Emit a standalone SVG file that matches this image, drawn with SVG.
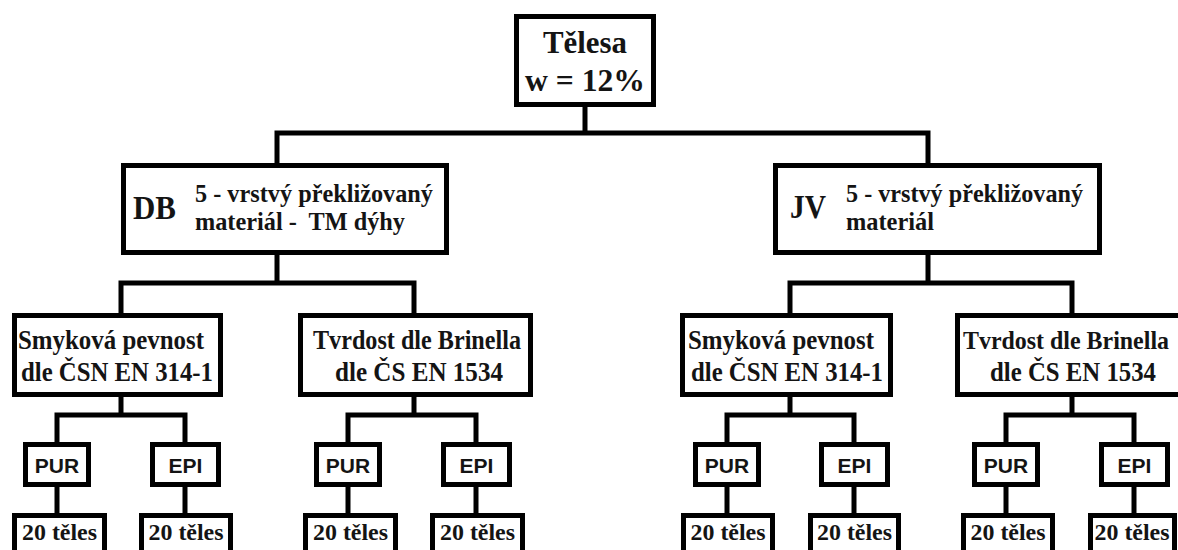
<svg xmlns="http://www.w3.org/2000/svg" width="1178" height="550" viewBox="0 0 1178 550">
<style>
  .box { fill: #ffffff; stroke: #000000; stroke-width: 5; }
  .conn { fill: none; stroke: #000000; stroke-width: 5; stroke-linejoin: miter; stroke-linecap: butt; }
  .serif { font-family: "Liberation Serif", "Times New Roman", serif; font-weight: bold; fill: #141414; }
  .sans { font-family: "Liberation Sans", Arial, sans-serif; font-weight: bold; fill: #141414; }
  .mid { text-anchor: middle; }
</style>
<rect width="1178" height="550" fill="#ffffff"/>
<g id="connectors">
  <path class="conn" d="M585,107 V133 M277,163 V133 H928 V163"/>
  <path class="conn" d="M277,255 V283 M121,313 V283 H414 V313"/>
  <path class="conn" d="M928,255 V283 M790,313 V283 H1072 V313"/>
  <path class="conn" d="M121,397 V415 M57,442 V415 H185 V442"/>
  <path class="conn" d="M414,397 V415 M348,442 V415 H476 V442"/>
  <path class="conn" d="M790,397 V415 M727,442 V415 H854 V442"/>
  <path class="conn" d="M1072,397 V415 M1006,442 V415 H1134 V442"/>
  <path class="conn" d="M57,487 V513 M185,487 V513 M348,487 V513 M476,487 V513 M727,487 V513 M854,487 V513 M1006,487 V513 M1134,487 V513"/>
</g>
<g id="root">
  <rect class="box" x="516.5" y="16.5" width="137" height="88"/>
  <text class="serif mid" x="585" y="53" font-size="32" textLength="84" lengthAdjust="spacingAndGlyphs">Tělesa</text>
  <text class="serif mid" x="585" y="91" font-size="32" textLength="120" lengthAdjust="spacingAndGlyphs">w = 12%</text>
</g>
<g id="db">
  <rect class="box" x="123.5" y="165.5" width="323" height="87"/>
  <text class="serif" x="133" y="219" font-size="33" textLength="43" lengthAdjust="spacingAndGlyphs">DB</text>
  <text class="serif" x="195" y="202" font-size="25" textLength="238" lengthAdjust="spacingAndGlyphs">5 - vrstvý překližovaný</text>
  <text class="serif" x="195" y="230" font-size="25" textLength="210" lengthAdjust="spacingAndGlyphs" xml:space="preserve">materiál -  TM dýhy</text>
</g>
<g id="jv">
  <rect class="box" x="775.5" y="165.5" width="324" height="87"/>
  <text class="serif" x="790" y="218" font-size="33" textLength="36" lengthAdjust="spacingAndGlyphs">JV</text>
  <text class="serif" x="846" y="202" font-size="25" textLength="237" lengthAdjust="spacingAndGlyphs">5 - vrstvý překližovaný</text>
  <text class="serif" x="846" y="230" font-size="25" textLength="88" lengthAdjust="spacingAndGlyphs">materiál</text>
</g>
<g id="smykova-db">
  <rect class="box" x="14.5" y="315.5" width="206" height="79"/>
  <text class="serif mid" x="111" y="349" font-size="27" textLength="186" lengthAdjust="spacingAndGlyphs">Smyková pevnost</text>
  <text class="serif mid" x="117" y="381" font-size="27" textLength="192" lengthAdjust="spacingAndGlyphs">dle ČSN EN 314-1</text>
</g>
<g id="tvrdost-db">
  <rect class="box" x="300.5" y="315.5" width="230" height="79"/>
  <text class="serif mid" x="417" y="349" font-size="27" textLength="208" lengthAdjust="spacingAndGlyphs">Tvrdost dle Brinella</text>
  <text class="serif mid" x="419" y="381" font-size="27" textLength="168" lengthAdjust="spacingAndGlyphs">dle ČS EN 1534</text>
</g>
<g id="smykova-jv">
  <rect class="box" x="682.5" y="315.5" width="208" height="79"/>
  <text class="serif mid" x="781" y="349" font-size="27" textLength="186" lengthAdjust="spacingAndGlyphs">Smyková pevnost</text>
  <text class="serif mid" x="787" y="381" font-size="27" textLength="192" lengthAdjust="spacingAndGlyphs">dle ČSN EN 314-1</text>
</g>
<g id="tvrdost-jv">
  <rect class="box" x="957.5" y="315.5" width="232" height="79"/>
  <text class="serif mid" x="1066" y="349" font-size="25" textLength="206" lengthAdjust="spacingAndGlyphs">Tvrdost dle Brinella</text>
  <text class="serif mid" x="1073" y="381" font-size="27" textLength="166" lengthAdjust="spacingAndGlyphs">dle ČS EN 1534</text>
</g>
<g id="pur-1"><rect class="box" x="25.5" y="444.5" width="63" height="40"/><text class="sans mid" x="57" y="473" font-size="21">PUR</text></g>
<g id="epi-1"><rect class="box" x="152.5" y="444.5" width="66" height="40"/><text class="sans mid" x="185.5" y="473" font-size="21">EPI</text></g>
<g id="pur-2"><rect class="box" x="316.5" y="444.5" width="63" height="40"/><text class="sans mid" x="348" y="473" font-size="21">PUR</text></g>
<g id="epi-2"><rect class="box" x="443.5" y="444.5" width="66" height="40"/><text class="sans mid" x="476.5" y="473" font-size="21">EPI</text></g>
<g id="pur-3"><rect class="box" x="695.5" y="444.5" width="63" height="40"/><text class="sans mid" x="727" y="473" font-size="21">PUR</text></g>
<g id="epi-3"><rect class="box" x="821.5" y="444.5" width="66" height="40"/><text class="sans mid" x="854.5" y="473" font-size="21">EPI</text></g>
<g id="pur-4"><rect class="box" x="974.5" y="444.5" width="63" height="40"/><text class="sans mid" x="1006" y="473" font-size="21">PUR</text></g>
<g id="epi-4"><rect class="box" x="1101.5" y="444.5" width="66" height="40"/><text class="sans mid" x="1134.5" y="473" font-size="21">EPI</text></g>
<g id="n20-1"><rect class="box" x="14.5" y="515.5" width="90" height="42"/><text class="serif mid" x="59.5" y="540" font-size="24" textLength="75" lengthAdjust="spacingAndGlyphs">20 těles</text></g>
<g id="n20-2"><rect class="box" x="141.5" y="515.5" width="89" height="42"/><text class="serif mid" x="186" y="540" font-size="24" textLength="75" lengthAdjust="spacingAndGlyphs">20 těles</text></g>
<g id="n20-3"><rect class="box" x="305.5" y="515.5" width="90" height="42"/><text class="serif mid" x="350.5" y="540" font-size="24" textLength="75" lengthAdjust="spacingAndGlyphs">20 těles</text></g>
<g id="n20-4"><rect class="box" x="432.5" y="515.5" width="90" height="42"/><text class="serif mid" x="477.5" y="540" font-size="24" textLength="75" lengthAdjust="spacingAndGlyphs">20 těles</text></g>
<g id="n20-5"><rect class="box" x="683.5" y="515.5" width="89" height="42"/><text class="serif mid" x="728" y="540" font-size="24" textLength="75" lengthAdjust="spacingAndGlyphs">20 těles</text></g>
<g id="n20-6"><rect class="box" x="810.5" y="515.5" width="88" height="42"/><text class="serif mid" x="854.5" y="540" font-size="24" textLength="75" lengthAdjust="spacingAndGlyphs">20 těles</text></g>
<g id="n20-7"><rect class="box" x="963.5" y="515.5" width="89" height="42"/><text class="serif mid" x="1008" y="540" font-size="24" textLength="75" lengthAdjust="spacingAndGlyphs">20 těles</text></g>
<g id="n20-8"><rect class="box" x="1090.5" y="515.5" width="84" height="42"/><text class="serif mid" x="1132" y="540" font-size="24" textLength="75" lengthAdjust="spacingAndGlyphs">20 těles</text></g>
</svg>
